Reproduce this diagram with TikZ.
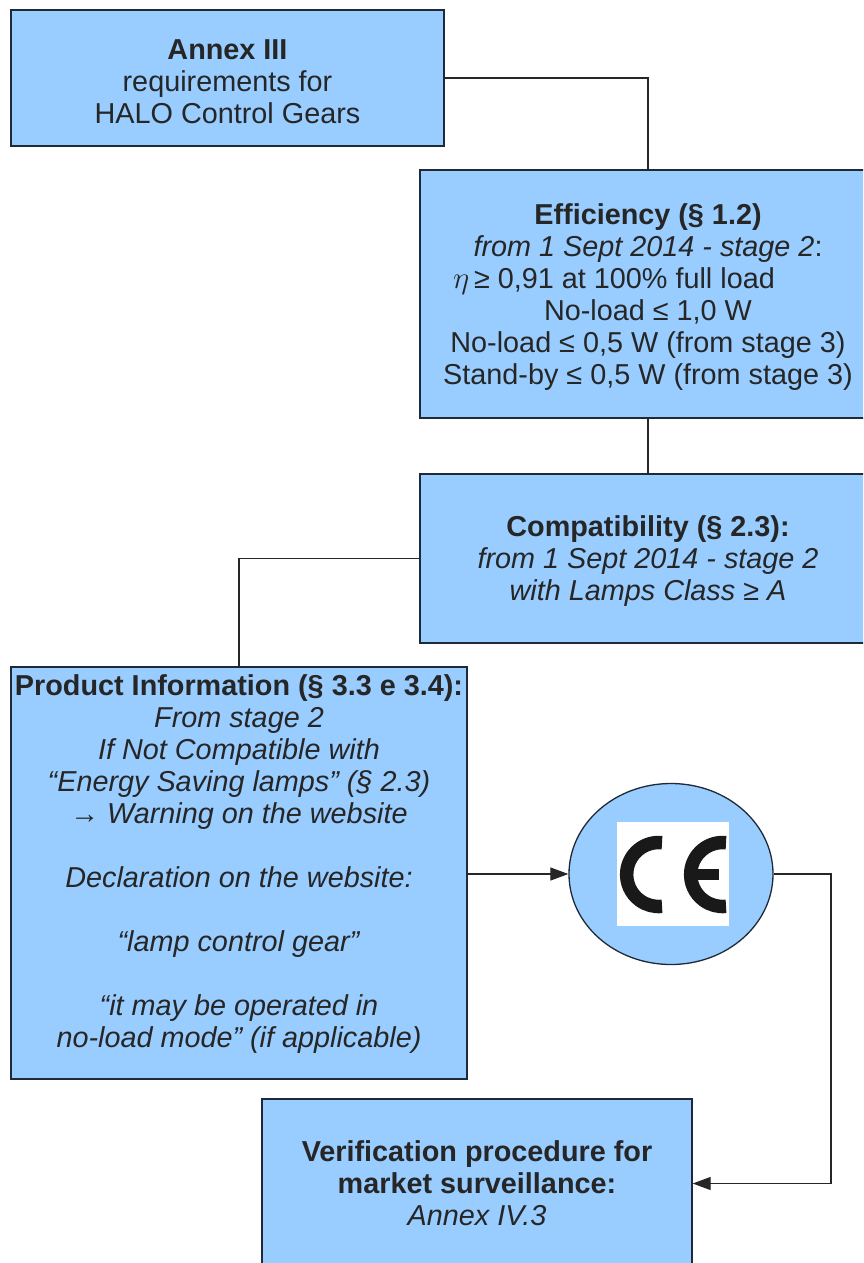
\documentclass[tikz,border=0pt]{standalone}
\usepackage{fontspec}
\usepackage{graphicx}
\setmainfont{Liberation Sans}
\usetikzlibrary{arrows.meta, shapes.geometric}
\definecolor{boxblue}{HTML}{99CCFF}
\definecolor{boxline}{HTML}{1E2A38}
\newcommand{\toppad}{\rule{0pt}{26.5pt}}
\tikzset{
    infobox/.style={draw=boxline, fill=boxblue, line width=1.3pt, inner sep=0pt, align=center,
        text=black!85, font=\fontsize{28.8}{32}\selectfont},
    link/.style={draw=black!85, line width=1.2pt}
}

\begin{document}
\begin{tikzpicture}[x=1pt,y=-1pt,>={Stealth[length=18pt,width=13pt,inset=0pt]}]

    % Page
    \clip (0,0) rectangle (863,1263);
    \fill[white] (0,0) rectangle (863,1263);

    % Boxes
    \node[infobox, minimum width=433pt, minimum height=136pt] (annex) at (227.5,78)
        {\toppad\textbf{Annex III}\\requirements for\\HALO Control Gears};
    \node[infobox, minimum width=456pt, minimum height=248pt] (efficiency) at (648,294)
        {\toppad\textbf{Efficiency (§ 1.2)}\\\textit{from 1 Sept 2014 - stage 2}:\\
        \scalebox{1.25}{$\eta$}\,≥ 0,91 at 100\% full load\rule{68pt}{0pt}\\No-load ≤ 1,0 W\\
        No-load ≤ 0,5 W (from stage 3)\\Stand-by ≤ 0,5 W (from stage 3)};
    \node[infobox, minimum width=456pt, minimum height=169pt] (compat) at (648,558.5)
        {\toppad\textbf{Compatibility (§ 2.3):}\\\textit{from 1 Sept 2014 - stage 2}\\\textit{with Lamps Class ≥ A}};
    \node[infobox, minimum width=456pt, minimum height=412pt] (product) at (239,873)
        {\textbf{Product Information (§ 3.3 e 3.4):}\\\textit{From stage 2}\\\textit{If Not Compatible with}\\
        \textit{“Energy Saving lamps” (§ 2.3)}\\\textit{→ Warning on the website}\\[32pt]
        \textit{Declaration on the website:}\\[32pt]\textit{“lamp control gear”}\\[32pt]
        \textit{“it may be operated in}\\\textit{no-load mode” (if applicable)}\\[-9pt]~};
    \node[infobox, minimum width=430pt, minimum height=169pt] (verification) at (477,1183.5)
        {\textbf{Verification procedure for}\\\textbf{market surveillance:}\\\textit{Annex IV.3}};

    % CE mark
    \node[infobox, ellipse, minimum width=204pt, minimum height=181pt] (ce) at (671,874) {};
    \node[fill=white, inner sep=0pt, minimum width=112pt, minimum height=104pt] (cemark) at (673,874) {};
    \draw[line width=13.5pt, black!90] (662,842.7) arc (-84:-276:32);
    \draw[line width=13.5pt, black!90] (726,842.7) arc (-84:-276:32);
    \fill[black!90] (692,869) rectangle (719,879.5);

    % Turning point
    \coordinate (turn) at (831,874);

    % Connectors
    \draw[link] (annex.east) -| (efficiency.north);
    \draw[link] (efficiency.south) -- (compat.north);
    \draw[link] (compat.west) -| (product.north);
    \draw[link,->] (product.east |- ce.west) -- (ce.west);
    \draw[link,->] (ce.east) -- (turn) |- (verification.east);

\end{tikzpicture}
\end{document}
